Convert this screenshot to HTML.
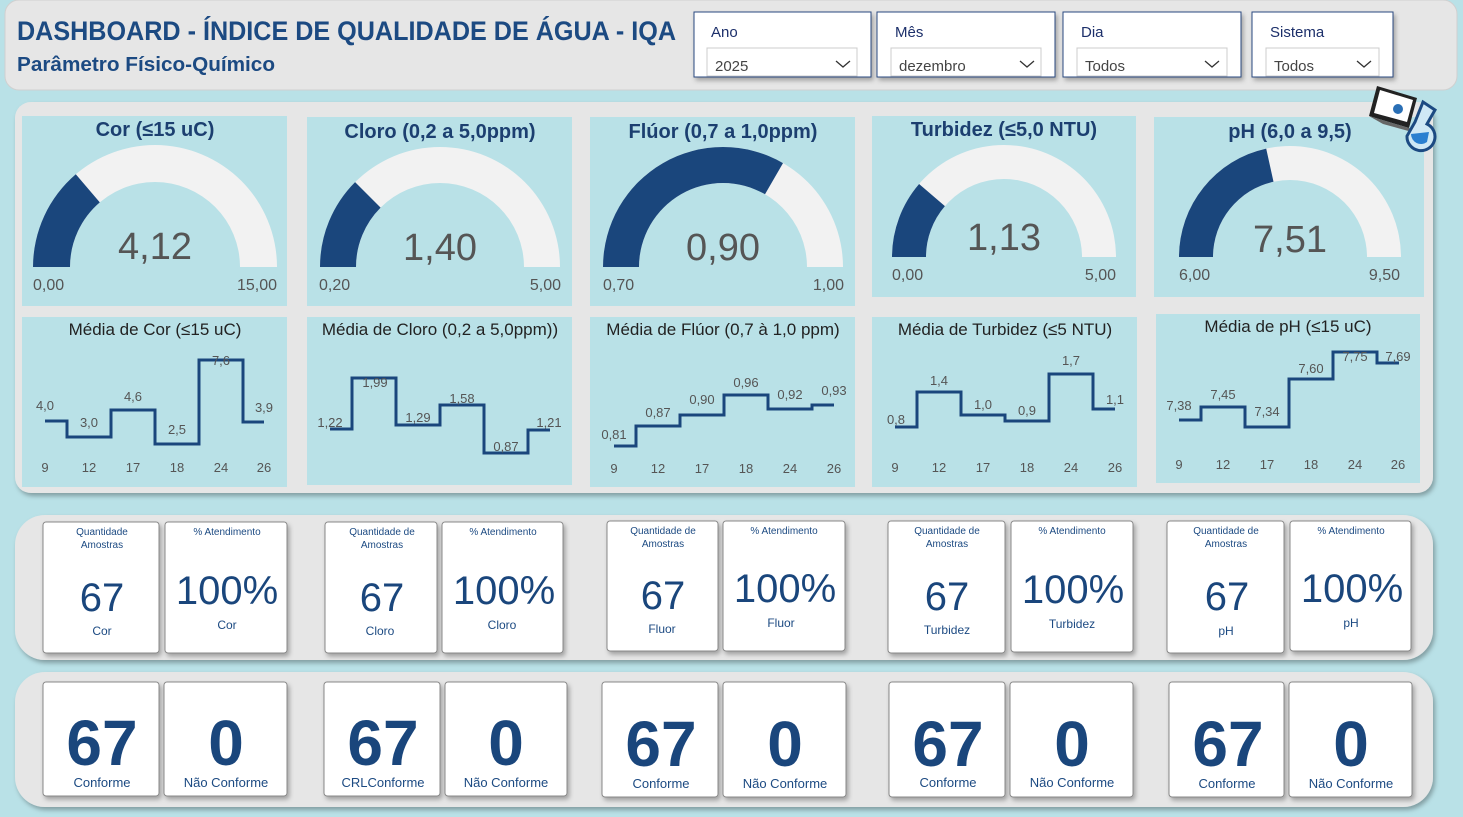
<!DOCTYPE html>
<html><head><meta charset="utf-8"><style>
html,body{margin:0;padding:0;background:#b9e1e7;}
svg{display:block;font-family:"Liberation Sans Narrow","Liberation Sans",sans-serif;}
</style></head><body>
<svg width="1463" height="817" viewBox="0 0 1463 817" xmlns="http://www.w3.org/2000/svg">
<defs>
<filter id="sh" x="-10%" y="-10%" width="130%" height="130%"><feDropShadow dx="2" dy="3" stdDeviation="2.5" flood-color="#000" flood-opacity="0.3"/></filter>
</defs>
<rect width="1463" height="817" fill="#b9e1e7"/>
<!-- header -->
<rect x="5" y="0" width="1452" height="90" rx="14" fill="#e6e6e6" stroke="#d0d0d0"/>
<text x="17" y="40" font-size="27" font-weight="bold" fill="#1c4a82" textLength="659" lengthAdjust="spacingAndGlyphs">DASHBOARD - ÍNDICE DE QUALIDADE DE ÁGUA - IQA</text>
<text x="17" y="71" font-size="20" font-weight="bold" fill="#1c4a82" textLength="258" lengthAdjust="spacingAndGlyphs">Parâmetro Físico-Químico</text>
<g font-size="15">
<g filter="url(#sh)">
<rect x="694" y="12" width="177" height="65" fill="#fff" stroke="#2a4a80"/>
<rect x="877" y="12" width="178" height="65" fill="#fff" stroke="#2a4a80"/>
<rect x="1063" y="12" width="178" height="65" fill="#fff" stroke="#2a4a80"/>
<rect x="1252" y="12" width="141" height="65" fill="#fff" stroke="#2a4a80"/>
</g>
<text x="711" y="37" fill="#1c2f6a">Ano</text><text x="895" y="37" fill="#1c2f6a">Mês</text><text x="1081" y="37" fill="#1c2f6a">Dia</text><text x="1270" y="37" fill="#1c2f6a">Sistema</text>
<g fill="#fff" stroke="#ccc"><rect x="707" y="48" width="150" height="28"/><rect x="891" y="48" width="150" height="28"/><rect x="1077" y="48" width="150" height="28"/><rect x="1266" y="48" width="113" height="28"/></g>
<g fill="#444"><text x="715" y="71">2025</text><text x="899" y="71">dezembro</text><text x="1085" y="71">Todos</text><text x="1274" y="71">Todos</text></g>
<g fill="none" stroke="#333" stroke-width="1.3"><path d="M836 61l7 6 7-6"/><path d="M1020 61l7 6 7-6"/><path d="M1205 61l7 6 7-6"/><path d="M1357 61l7 6 7-6"/></g>
</g>
<!-- main panel -->
<rect x="15" y="102" width="1418" height="391" rx="16" fill="#e6e6e6" filter="url(#sh)"/>
<g fill="#b9e1e7">
<rect x="22" y="116" width="265" height="190"/><rect x="307" y="117" width="265" height="189"/><rect x="590" y="117" width="265" height="189"/><rect x="872" y="116" width="264" height="181"/><rect x="1154" y="117" width="270" height="180"/>
<rect x="22" y="317" width="265" height="170"/><rect x="307" y="317" width="265" height="168"/><rect x="590" y="317" width="265" height="170"/><rect x="872" y="317" width="265" height="170"/><rect x="1156" y="314" width="264" height="169"/>
</g>
<!-- laptop icon -->
<g transform="translate(1365,84)">
<path d="M12 2 L52 14 L44 44 L4 32 Z" fill="#222"/><path d="M15 6 L48 16 L42 38 L9 29 Z" fill="#fff"/>
<path d="M4 32 L44 44 L62 52 L18 40 Z" fill="#666"/>
<circle cx="33" cy="25" r="5" fill="#2a6fb5"/>
<path d="M58 18 L70 26 L62 40 A14 14 0 1 1 42 52 L50 38 Z" fill="#cfe8f5" stroke="#1c4a82" stroke-width="3"/>
<path d="M46 50 A10 10 0 0 0 62 58 L64 48 Z" fill="#2a7fd0"/>
</g>
<!-- gauges -->
<g fill="#f2f2f2">
<path d="M33 267A122 122 0 0 1 277 267L240 267A85 85 0 0 0 70 267Z"/>
<path d="M320 267A120 120 0 0 1 560 267L524 267A84 84 0 0 0 356 267Z"/>
<path d="M603 267A120 120 0 0 1 843 267L807 267A84 84 0 0 0 639 267Z"/>
<path d="M892 257A112 112 0 0 1 1116 257L1082 257A78 78 0 0 0 926 257Z"/>
<path d="M1179 257A111 111 0 0 1 1401 257L1367 257A77 77 0 0 0 1213 257Z"/>
</g>
<g fill="#1a467c">
<path d="M33 267A122 122 0 0 1 75.8 174.3L99.8 202.4A85 85 0 0 0 70 267Z"/>
<path d="M320 267A120 120 0 0 1 355.1 182.1L380.6 207.6A84 84 0 0 0 356 267Z"/>
<path d="M603 267A120 120 0 0 1 783 163.1L765 194.3A84 84 0 0 0 639 267Z"/>
<path d="M892 257A112 112 0 0 1 919.1 184L944.9 206.1A78 78 0 0 0 926 257Z"/>
<path d="M1179 257A111 111 0 0 1 1266.2 148.6L1273.5 181.8A77 77 0 0 0 1213 257Z"/>
</g>
<g font-size="20" font-weight="bold" fill="#1c3f70" text-anchor="middle">
<text x="155" y="136">Cor (≤15 uC)</text><text x="440" y="138">Cloro (0,2 a 5,0ppm)</text><text x="723" y="138">Flúor (0,7 a 1,0ppm)</text><text x="1004" y="136">Turbidez (≤5,0 NTU)</text><text x="1290" y="138">pH (6,0 a 9,5)</text>
</g>
<g font-size="38" fill="#555" text-anchor="middle">
<text x="155" y="259">4,12</text><text x="440" y="260">1,40</text><text x="723" y="260">0,90</text><text x="1004" y="250">1,13</text><text x="1290" y="252">7,51</text>
</g>
<g font-size="16" fill="#555">
<text x="33" y="290">0,00</text><text x="277" y="290" text-anchor="end">15,00</text>
<text x="319" y="290">0,20</text><text x="561" y="290" text-anchor="end">5,00</text>
<text x="603" y="290">0,70</text><text x="844" y="290" text-anchor="end">1,00</text>
<text x="892" y="280">0,00</text><text x="1116" y="280" text-anchor="end">5,00</text>
<text x="1179" y="280">6,00</text><text x="1400" y="280" text-anchor="end">9,50</text>
</g>
<!-- line charts -->
<g font-size="17" fill="#222" text-anchor="middle">
<text x="155" y="335">Média de Cor (≤15 uC)</text><text x="440" y="335">Média de Cloro (0,2 a 5,0ppm))</text><text x="723" y="335">Média de Flúor (0,7 à 1,0 ppm)</text><text x="1005" y="335">Média de Turbidez (≤5 NTU)</text><text x="1288" y="332">Média de pH (≤15 uC)</text>
</g>
<g fill="none" stroke="#1a467c" stroke-width="3">
<path d="M45 421H67V437H111V410H155V444H199V360H243V422H264"/>
<path d="M330 429H352V378H396V425H440V405H484V453H528V430H550"/>
<path d="M614 446H636V426H680V415H724V395H768V409H812V405H834"/>
<path d="M895 427H917V392H961V415H1005V421H1049V374H1093V409H1115"/>
<path d="M1179 420H1201V407H1245V427H1289V379H1333V352H1377V363H1399"/>
</g>
<g font-size="13" fill="#555" text-anchor="middle">
<text x="45" y="472">9</text><text x="89" y="472">12</text><text x="133" y="472">17</text><text x="177" y="472">18</text><text x="221" y="472">24</text><text x="264" y="472">26</text>
<text x="614" y="473">9</text><text x="658" y="473">12</text><text x="702" y="473">17</text><text x="746" y="473">18</text><text x="790" y="473">24</text><text x="834" y="473">26</text>
<text x="895" y="472">9</text><text x="939" y="472">12</text><text x="983" y="472">17</text><text x="1027" y="472">18</text><text x="1071" y="472">24</text><text x="1115" y="472">26</text>
<text x="1179" y="469">9</text><text x="1223" y="469">12</text><text x="1267" y="469">17</text><text x="1311" y="469">18</text><text x="1355" y="469">24</text><text x="1398" y="469">26</text>
<text x="45" y="410">4,0</text><text x="89" y="427">3,0</text><text x="133" y="401">4,6</text><text x="177" y="434">2,5</text><text x="221" y="365">7,6</text><text x="264" y="412">3,9</text>
<text x="330" y="427">1,22</text><text x="375" y="387">1,99</text><text x="418" y="422">1,29</text><text x="462" y="403">1,58</text><text x="506" y="451">0,87</text><text x="549" y="427">1,21</text>
<text x="614" y="439">0,81</text><text x="658" y="417">0,87</text><text x="702" y="404">0,90</text><text x="746" y="387">0,96</text><text x="790" y="399">0,92</text><text x="834" y="395">0,93</text>
<text x="896" y="424">0,8</text><text x="939" y="385">1,4</text><text x="983" y="409">1,0</text><text x="1027" y="415">0,9</text><text x="1071" y="365">1,7</text><text x="1115" y="404">1,1</text>
<text x="1179" y="410">7,38</text><text x="1223" y="399">7,45</text><text x="1267" y="416">7,34</text><text x="1311" y="373">7,60</text><text x="1355" y="361">7,75</text><text x="1398" y="361">7,69</text>
</g>
<!-- row panels -->
<rect x="15" y="515" width="1418" height="145" rx="30" fill="#e6e6e6" filter="url(#sh)"/>
<rect x="15" y="672" width="1418" height="135" rx="30" fill="#e6e6e6" filter="url(#sh)"/>
<g fill="#fff" stroke="#888" filter="url(#sh)">
<rect x="43" y="522" width="116" height="131" rx="3"/><rect x="165" y="522" width="122" height="131" rx="3"/>
<rect x="325" y="522" width="112" height="131" rx="3"/><rect x="442" y="522" width="121" height="131" rx="3"/>
<rect x="607" y="521" width="111" height="130" rx="3"/><rect x="723" y="521" width="122" height="130" rx="3"/>
<rect x="888" y="521" width="117" height="132" rx="3"/><rect x="1011" y="521" width="122" height="131" rx="3"/>
<rect x="1167" y="521" width="117" height="132" rx="3"/><rect x="1290" y="521" width="121" height="130" rx="3"/>
<rect x="43" y="682" width="116" height="114" rx="3"/><rect x="164" y="682" width="123" height="114" rx="3"/>
<rect x="324" y="682" width="116" height="114" rx="3"/><rect x="445" y="682" width="122" height="114" rx="3"/>
<rect x="602" y="682" width="116" height="115" rx="3"/><rect x="723" y="682" width="123" height="115" rx="3"/>
<rect x="889" y="682" width="116" height="115" rx="3"/><rect x="1010" y="682" width="123" height="115" rx="3"/>
<rect x="1169" y="682" width="115" height="115" rx="3"/><rect x="1289" y="682" width="123" height="115" rx="3"/>
</g>
<g font-size="10" fill="#1c4a82" text-anchor="middle">
<text x="102" y="535">Quantidade</text><text x="102" y="548">Amostras</text><text x="227" y="535">% Atendimento</text>
<text x="382" y="535">Quantidade de</text><text x="382" y="548">Amostras</text><text x="503" y="535">% Atendimento</text>
<text x="663" y="534">Quantidade de</text><text x="663" y="547">Amostras</text><text x="784" y="534">% Atendimento</text>
<text x="947" y="534">Quantidade de</text><text x="947" y="547">Amostras</text><text x="1072" y="534">% Atendimento</text>
<text x="1226" y="534">Quantidade de</text><text x="1226" y="547">Amostras</text><text x="1351" y="534">% Atendimento</text>
</g>
<g font-size="40" fill="#1a467c" text-anchor="middle">
<text x="102" y="611">67</text><text x="227" y="604">100%</text>
<text x="382" y="611">67</text><text x="504" y="604">100%</text>
<text x="663" y="609">67</text><text x="785" y="602">100%</text>
<text x="947" y="610">67</text><text x="1073" y="603">100%</text>
<text x="1227" y="610">67</text><text x="1352" y="602">100%</text>
</g>
<g font-size="12" fill="#1c4a82" text-anchor="middle">
<text x="102" y="635">Cor</text><text x="227" y="629">Cor</text>
<text x="380" y="635">Cloro</text><text x="502" y="629">Cloro</text>
<text x="662" y="633">Fluor</text><text x="781" y="627">Fluor</text>
<text x="947" y="634">Turbidez</text><text x="1072" y="628">Turbidez</text>
<text x="1226" y="635">pH</text><text x="1351" y="627">pH</text>
</g>
<g font-size="64" font-weight="bold" fill="#1a467c" text-anchor="middle">
<text x="102" y="765">67</text><text x="226" y="765">0</text>
<text x="383" y="765">67</text><text x="506" y="765">0</text>
<text x="661" y="766">67</text><text x="785" y="766">0</text>
<text x="948" y="766">67</text><text x="1072" y="766">0</text>
<text x="1228" y="766">67</text><text x="1351" y="766">0</text>
</g>
<g font-size="13" fill="#1c4a82" text-anchor="middle">
<text x="102" y="787">Conforme</text><text x="226" y="787">Não Conforme</text>
<text x="383" y="787">CRLConforme</text><text x="506" y="787">Não Conforme</text>
<text x="661" y="788">Conforme</text><text x="785" y="788">Não Conforme</text>
<text x="948" y="787">Conforme</text><text x="1072" y="787">Não Conforme</text>
<text x="1227" y="788">Conforme</text><text x="1351" y="788">Não Conforme</text>
</g>
</svg>
</body></html>
